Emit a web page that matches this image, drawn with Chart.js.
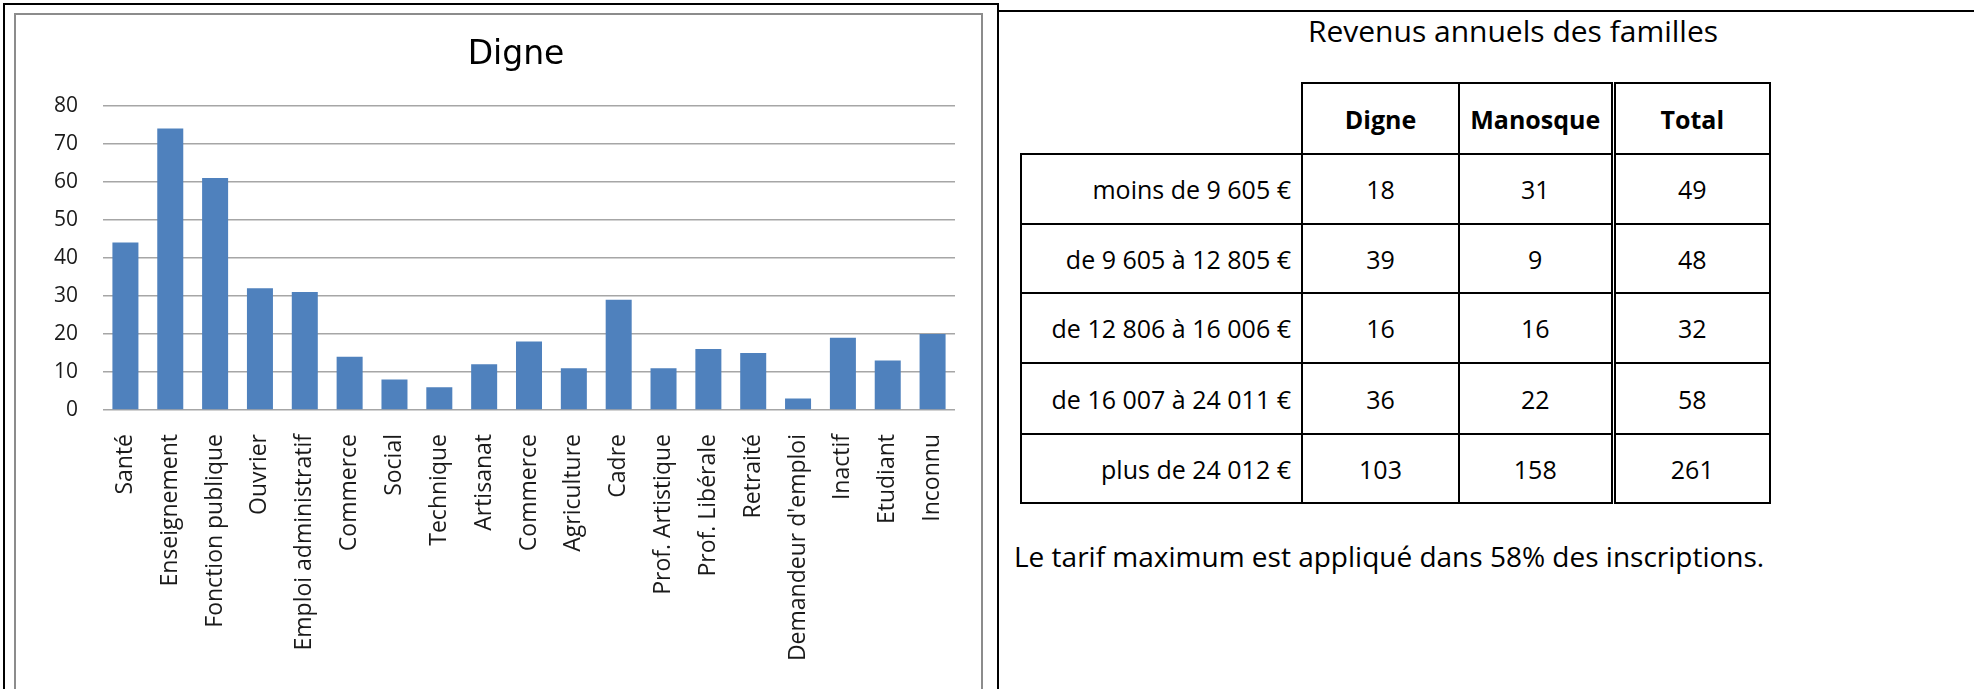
<!DOCTYPE html>
<html lang="fr">
<head>
<meta charset="UTF-8">
<title>Digne - Revenus annuels des familles</title>
<script src="https://cdn.jsdelivr.net/npm/chart.js@4.4.0/dist/chart.umd.min.js"></script>
<style>
  body { margin:0; width:1974px; height:689px; background:#fff; position:relative; overflow:hidden;
         font-family:"Open Sans", sans-serif; color:#000; }
  .ligne { position:absolute; background:#000; z-index:3; }
  #cadre { position:absolute; left:14px; top:13px; width:965px; height:700px;
           border:2px solid #8c8c8c; border-bottom:none; pointer-events:none; z-index:2; }
  #graphique { position:absolute; left:17px; top:14px; z-index:1; }
  #titreTableau { position:absolute; left:1263px; top:16px; width:500px; text-align:center;
                  font-size:30px; line-height:30px; white-space:nowrap; }
  #tableau { position:absolute; left:1020px; top:82px; border-collapse:collapse; table-layout:fixed; font-size:25px; }
  #tableau td, #tableau th { border:2px solid #000; text-align:center; padding:0; }
  #tableau th { font-weight:bold; }
  #tableau th.vide { border:none; }
  #tableau td.lib { text-align:right; padding-right:10px; white-space:nowrap; }
  #tableau .total { border-left:5px double #000; }
  #phrase { position:absolute; left:1014px; top:542px; font-size:28px; line-height:28px; white-space:nowrap; }
</style>
</head>
<body>
<div class="ligne" style="left:3px; top:3px; width:996px; height:2px;"></div>
<div class="ligne" style="left:997px; top:10px; width:977px; height:2px;"></div>
<div class="ligne" style="left:3px; top:3px; width:2px; height:686px;"></div>
<div class="ligne" style="left:997px; top:3px; width:2px; height:686px;"></div>
<div id="cadre"></div>

<canvas id="graphique" width="998" height="675"></canvas>

<div id="titreTableau">Revenus annuels des familles</div>
<table id="tableau">
  <colgroup><col style="width:281px"><col style="width:157px"><col style="width:154px"><col style="width:157px"></colgroup>
  <thead></thead>
  <tbody></tbody>
</table>
<div id="phrase">Le tarif maximum est appliqué dans 58% des inscriptions.</div>

<script>
// Graphique : professions à Digne
var professions = ['Santé', 'Enseignement', 'Fonction publique', 'Ouvrier', 'Emploi administratif',
  'Commerce', 'Social', 'Technique', 'Artisanat', 'Commerce', 'Agriculture', 'Cadre',
  'Prof. Artistique', 'Prof. Libérale', 'Retraité', "Demandeur d'emploi", 'Inactif', 'Etudiant', 'Inconnu'];
var effectifsDigne = [44, 74, 61, 32, 31, 14, 8, 6, 12, 18, 11, 29, 11, 16, 15, 3, 19, 13, 20];
var graduationsY = [0, 10, 20, 30, 40, 50, 60, 70, 80];

// Tableau : revenus annuels des familles
var entetes = ['Digne', 'Manosque', 'Total'];
var tranches = ['moins de 9 605 €', 'de 9 605 à 12 805 €', 'de 12 806 à 16 006 €',
  'de 16 007 à 24 011 €', 'plus de 24 012 €'];
var revenusDigne = [18, 39, 16, 36, 103];
var revenusManosque = [31, 9, 16, 22, 158];
var revenusTotal = [49, 48, 32, 58, 261];

// canvas de 17 à 1015 : titre centré vers x=516, zone de tracé 103..955
var ctx = document.getElementById('graphique').getContext('2d');
var graphique = new Chart(ctx, {
  type: 'bar',
  data: {
    labels: professions,
    datasets: [{
      label: 'Digne',
      data: effectifsDigne,
      backgroundColor: '#4f81bd',
      borderWidth: 0,
      barPercentage: 0.58,
      categoryPercentage: 1.0
    }]
  },
  options: {
    responsive: false,
    animation: false,
    devicePixelRatio: 1,
    layout: { padding: 0 },
    plugins: {
      legend: { display: false },
      tooltip: { enabled: false },
      title: {
        display: true,
        text: 'Digne',
        color: '#000',
        font: { family: 'DejaVu Sans', size: 33, weight: 'normal' },
        padding: { top: 22, bottom: 30 }
      }
    },
    scales: {
      x: {
        grid: { display: false, drawTicks: false },
        border: { display: false },
        ticks: {
          autoSkip: false, minRotation: 90, maxRotation: 90, padding: 24,
          color: '#1a1a1a', font: { family: 'Open Sans', size: 23 }
        },
        afterFit: function (scale) { scale.height = 279; }
      },
      y: {
        min: graduationsY[0],
        max: graduationsY[graduationsY.length - 1],
        afterBuildTicks: function (scale) {
          scale.ticks = graduationsY.map(function (v) { return { value: v }; });
        },
        grid: { color: '#a6a6a6', lineWidth: 1.5, drawTicks: false },
        border: { display: false },
        ticks: { padding: 25, color: '#1a1a1a', font: { family: 'Open Sans', size: 21 } },
        afterFit: function (scale) { scale.width = 86; }
      },
      // axe vide à droite, juste pour réserver la marge
      yVide: {
        position: 'right',
        grid: { display: false, drawTicks: false },
        border: { display: false },
        ticks: { display: false },
        afterFit: function (scale) { scale.width = 60; }
      }
    }
  }
});

// construction du tableau
var thead = document.querySelector('#tableau thead');
var trH = document.createElement('tr');
trH.style.height = '71px';
var vide = document.createElement('th');
vide.className = 'vide';
trH.appendChild(vide);
entetes.forEach(function (e, i) {
  var th = document.createElement('th');
  th.textContent = e;
  if (i === 2) th.className = 'total';
  trH.appendChild(th);
});
thead.appendChild(trH);

var tbody = document.querySelector('#tableau tbody');
var hauteurs = [70, 69, 70, 71, 69];
tranches.forEach(function (t, i) {
  var tr = document.createElement('tr');
  tr.style.height = hauteurs[i] + 'px';
  var cells = [t, revenusDigne[i], revenusManosque[i], revenusTotal[i]];
  cells.forEach(function (c, j) {
    var td = document.createElement('td');
    td.textContent = c;
    if (j === 0) td.className = 'lib';
    if (j === 3) td.className = 'total';
    tr.appendChild(td);
  });
  tbody.appendChild(tr);
});
</script>
</body>
</html>
